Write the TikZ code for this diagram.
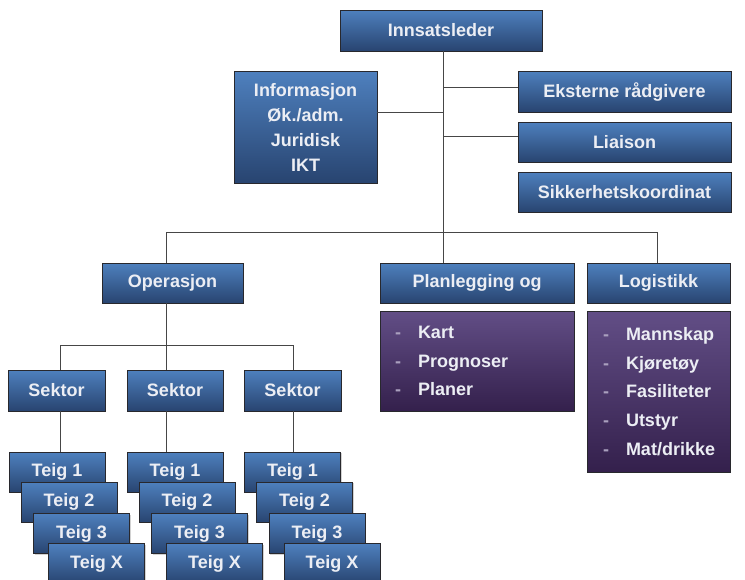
\documentclass[tikz,border=0pt]{standalone}
\usepackage{fontspec}
\setmainfont{Liberation Sans}
\usetikzlibrary{shadows}
\definecolor{btop}{RGB}{78,128,190}
\definecolor{bbot}{RGB}{40,68,112}
\definecolor{ptop}{RGB}{98,78,134}
\definecolor{pbot}{RGB}{52,32,76}
\definecolor{txt}{RGB}{236,238,244}
\definecolor{dashc}{RGB}{170,160,190}
\definecolor{linec}{RGB}{70,70,70}
\definecolor{edgec}{RGB}{40,40,45}
\tikzset{
  box/.style={rectangle, draw=edgec, line width=0.8pt, top color=btop, bottom color=bbot,
    text=txt, font=\fontsize{18}{25}\selectfont\bfseries, align=center, inner sep=0pt,
    drop shadow={opacity=0.35, shadow xshift=1.2pt, shadow yshift=-1.2pt}},
  pbox/.style={box, top color=ptop, bottom color=pbot, align=left,
    font=\fontsize{18}{28.75}\selectfont\bfseries},
  teig/.style={box, minimum width=96pt, minimum height=40pt},
  conn/.style={draw=linec, line width=0.9pt}
}
\newcommand{\dl}[1]{\makebox[23pt][l]{\textcolor{dashc}{-}}#1}
\begin{document}
\begin{tikzpicture}[x=1pt,y=-1pt]
\useasboundingbox[fill=white] (0,0) rectangle (745,579);
% top level
\node[box, minimum width=202pt, minimum height=41pt] (inn) at (441,30.5) {Innsatsleder};
\node[box, minimum width=143pt, minimum height=112pt] (info) at (305.5,127)
  {Informasjon\\Øk./adm.\\Juridisk\\IKT};
\node[box, minimum width=213pt, minimum height=41pt] (ekst) at (624.5,91.5) {Eksterne rådgivere};
\node[box, minimum width=213pt, minimum height=40pt] (liai) at (624.5,142) {Liaison};
\node[box, minimum width=213pt, minimum height=40pt] (sikk) at (624.5,192) {Sikkerhetskoordinat};
% second level
\node[box, minimum width=141pt, minimum height=40pt] (oper) at (172.5,283) {Operasjon};
\node[box, minimum width=194pt, minimum height=40pt] (plan) at (477,283) {Planlegging og};
\node[box, minimum width=143pt, minimum height=40pt] (logi) at (658.5,283) {Logistikk};
\node[pbox, minimum width=194pt, minimum height=100pt, text width=164pt] (planl) at (477,361)
  {\dl{Kart}\\\dl{Prognoser}\\\dl{Planer}};
\node[pbox, minimum width=143pt, minimum height=161pt, text width=111pt] (logil) at (658.5,391.5)
  {\dl{Mannskap}\\\dl{Kjøretøy}\\\dl{Fasiliteter}\\\dl{Utstyr}\\\dl{Mat/drikke}};
% sectors
\node[box, minimum width=97pt, minimum height=41pt] (s1) at (56.5,390.5) {Sektor};
\node[box, minimum width=96pt, minimum height=41pt] (s2) at (175,390.5) {Sektor};
\node[box, minimum width=97pt, minimum height=41pt] (s3) at (292.5,390.5) {Sektor};
% junctions
\coordinate (top) at (443,51);
\coordinate (jE) at (443,87);
\coordinate (jI) at (443,112);
\coordinate (jL) at (443,136);
\coordinate (bus) at (443,232);
\coordinate (busL) at (166,232);
\coordinate (busR) at (657,232);
\coordinate (ob) at (166,303);
\coordinate (obus) at (166,345);
\coordinate (obusL) at (60,345);
\coordinate (obusR) at (293,345);
% connectors
\draw[conn] (top) -- (bus);
\draw[conn] (busL) -- (busR);
\draw[conn] (jE) -- (ekst.west |- jE);
\draw[conn] (jL) -- (liai.west |- jL);
\draw[conn] (info.east |- jI) -- (jI);
\draw[conn] (busL) -- (busL |- oper.north);
\draw[conn] (bus) -- (bus |- plan.north);
\draw[conn] (busR) -- (busR |- logi.north);
\draw[conn] (ob) -- (obus);
\draw[conn] (obusL) -- (obusR);
\draw[conn] (obusL) -- (obusL |- s1.north);
\draw[conn] (obus) -- (obus |- s2.north);
\draw[conn] (obusR) -- (obusR |- s3.north);
% teig stacks
\foreach \g/\x/\s/\j in {a/57/s1/obusL,b/175/s2/obus,c/292.5/s3/obusR}{
  \node[teig] (\g1) at (\x,472) {Teig 1};
  \draw[conn] (\j |- \s.south) -- (\j |- \g1.north);
  \node[teig] (\g2) at (\x+12,502) {Teig 2};
  \node[teig] (\g3) at (\x+24.5,533.5) {Teig 3};
  \node[teig] (\g4) at (\x+39.5,563.5) {Teig X};
}
\end{tikzpicture}
\end{document}
